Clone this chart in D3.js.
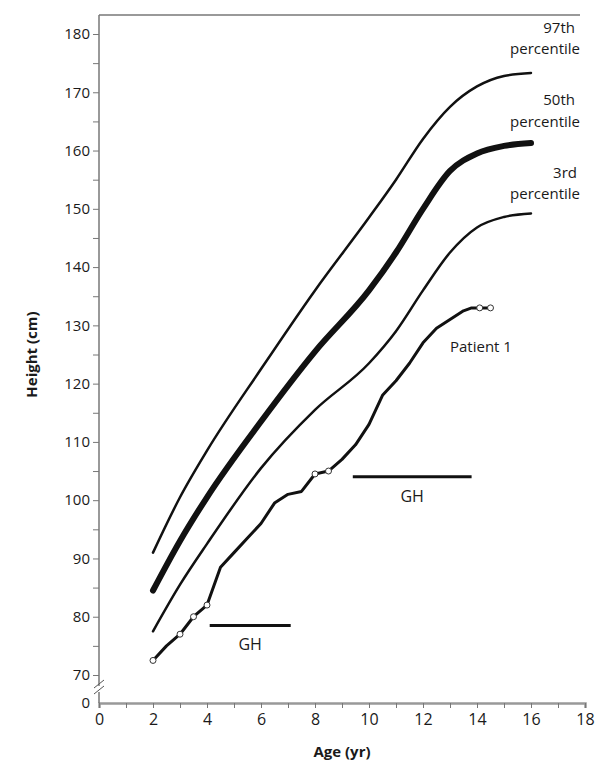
<!DOCTYPE html>
<html><head><meta charset="utf-8">
<script src="https://cdn.jsdelivr.net/npm/d3@7"></script>
<style>body{margin:0;background:#fff}text{font-family:"Open Sans",sans-serif;fill:#1a1a1a}</style>
</head><body><svg id="c" width="601" height="772"></svg>
<script>
const ages = [2, 3, 4, 6, 8, 10, 11, 12, 13, 14, 15, 16];
const p97 = [91, 100.5, 108.5, 122.5, 136, 148.5, 155, 162, 167.5, 171, 172.8, 173.3];
const p50 = [84.5, 93, 100.5, 113.5, 125.5, 136, 142.5, 150, 156.5, 159.5, 160.8, 161.3];
const p3 = [77.5, 85.5, 92.5, 105.5, 115.5, 123.5, 129, 136, 142.5, 146.8, 148.6, 149.2];
const patAge = [2, 2.5, 3, 3.5, 4, 4.5, 5, 5.5, 6, 6.5, 7, 7.5, 8, 8.5, 9, 9.5, 10, 10.5, 11, 11.5, 12, 12.5, 13, 13.5, 13.8, 14.1, 14.5];
const patH = [72.5, 75, 77, 80, 82, 88.5, 91, 93.5, 96, 99.5, 101, 101.5, 104.5, 105, 107, 109.5, 113, 118, 120.5, 123.5, 127, 129.5, 131, 132.5, 133, 133, 133];
const open = [0, 2, 3, 4, 12, 13, 25, 26];
const ghBars = [[4.1, 7.1, 78.5], [9.4, 13.8, 104]];

const svg = d3.select('#c');
const x = d3.scaleLinear().domain([0, 18]).range([99, 585]);
const y = d3.scaleLinear().domain([70, 180]).range([675, 34]);
const y0 = 703;

// x axis
const gx = svg.append('g').attr('transform', 'translate(0,' + y0 + ')')
  .call(d3.axisBottom(x).tickValues(d3.range(0, 19)).tickSize(5).tickFormat(d => d % 2 ? '' : d));
gx.select('.domain').attr('stroke', '#999').attr('stroke-width', 2.5);
gx.selectAll('.tick line').attr('stroke', '#777');
gx.selectAll('text').attr('font-size', 16).attr('dy', '0.9em');
svg.append('text').attr('x', x(9)).attr('y', 757).attr('text-anchor', 'middle')
  .attr('font-size', 15).attr('font-weight', 'bold').text('Age (yr)');

// y axis
const gy = svg.append('g').attr('transform', 'translate(' + x(0) + ',0)')
  .call(d3.axisLeft(y).tickValues(d3.range(70, 181, 5)).tickSize(6).tickFormat(d => d % 10 ? '' : d));
gy.select('.domain').remove();
gy.selectAll('.tick line').attr('stroke', '#777');
gy.selectAll('text').attr('font-size', 15);
svg.append('line').attr('x1', x(0)).attr('x2', x(0)).attr('y1', 15).attr('y2', 686).attr('stroke', '#777').attr('stroke-width', 1.5);
svg.append('line').attr('x1', x(0)).attr('x2', x(0)).attr('y1', 692).attr('y2', y0).attr('stroke', '#777').attr('stroke-width', 1.5);
[684, 690].forEach(v => svg.append('line').attr('x1', x(0) - 5).attr('x2', x(0) + 5)
  .attr('y1', v + 4).attr('y2', v - 4).attr('stroke', '#555'));
svg.append('g').attr('transform', 'translate(' + x(0) + ',' + y0 + ')')
  .append('text').attr('x', -9).attr('dy', '0.32em').attr('text-anchor', 'end').attr('font-size', 15).text('0');
svg.append('line').attr('x1', x(0)).attr('x2', 580).attr('y1', 15).attr('y2', 15).attr('stroke', '#777').attr('stroke-width', 1.5);
svg.append('text').attr('transform', 'translate(37,' + y(125) + ') rotate(-90)').attr('text-anchor', 'middle')
  .attr('font-size', 15).attr('font-weight', 'bold').text('Height (cm)');

// percentile curves
const line = d3.line().x(d => x(d[0])).y(d => y(d[1])).curve(d3.curveMonotoneX);
[[p97, 2.5], [p50, 6], [p3, 2.5]].forEach(([vals, w]) => {
  svg.append('path').datum(ages.map((a, i) => [a, vals[i]])).attr('d', line)
    .attr('fill', 'none').attr('stroke', '#111').attr('stroke-width', w).attr('stroke-linecap', 'round');
});

// patient
const pat = patAge.map((a, i) => [a, patH[i]]);
svg.append('path').datum(pat).attr('d', d3.line().x(d => x(d[0])).y(d => y(d[1])))
  .attr('fill', 'none').attr('stroke', '#111').attr('stroke-width', 3).attr('stroke-linejoin', 'round');
svg.selectAll('circle.o').data(open.map(i => pat[i])).enter().append('circle')
  .attr('cx', d => x(d[0])).attr('cy', d => y(d[1])).attr('r', 3)
  .attr('fill', '#fff').attr('stroke', '#333').attr('stroke-width', 1);

// GH bars
ghBars.forEach(b => {
  svg.append('line').attr('x1', x(b[0])).attr('x2', x(b[1])).attr('y1', y(b[2])).attr('y2', y(b[2]))
    .attr('stroke', '#111').attr('stroke-width', 3);
  svg.append('text').attr('x', x((b[0] + b[1]) / 2)).attr('y', y(b[2]) + 25).attr('text-anchor', 'middle')
    .attr('font-size', 16).text('GH');
});

// labels
const labs = [['97th', 575, 33], ['percentile', 580, 54], ['50th', 575, 105], ['percentile', 580, 127],
  ['3rd', 577, 178], ['percentile', 580, 199]];
labs.forEach(l => svg.append('text').attr('x', l[1]).attr('y', l[2]).attr('text-anchor', 'end').attr('font-size', 15).text(l[0]));
svg.append('text').attr('x', 450).attr('y', 352).attr('font-size', 15).text('Patient 1');
</script></body></html>
